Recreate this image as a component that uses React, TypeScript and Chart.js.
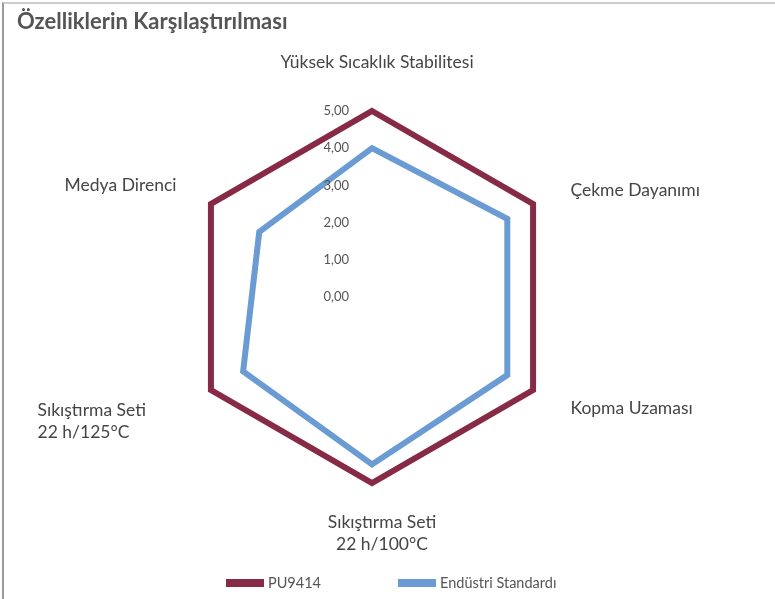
import React, { useEffect, useRef } from 'react';
import { Chart, registerables } from 'chart.js';

Chart.register(...registerables);

const TITLE = 'Özelliklerin Karşılaştırılması';
const CATEGORIES: (string | string[])[] = [
  'Yüksek Sıcaklık Stabilitesi',
  'Çekme Dayanımı',
  'Kopma Uzaması',
  ['Sıkıştırma Seti', '22 h/100°C'],
  ['Sıkıştırma Seti', '22 h/125°C'],
  'Medya Direnci',
];
const SERIES_NAMES = ['PU9414', 'Endüstri Standardı'];
const PU9414_VALUES = [5, 5, 5, 5, 5, 5];
const ENDUSTRI_VALUES = [4, 4.2, 4.2, 4.5, 4, 3.5];
const SCALE_MIN = 0;
const SCALE_MAX = 5;
const SCALE_STEP = 1;

const COLORS = ['#862a45', '#6a9bd3'];
const FONT = 'Lato, "Open Sans", sans-serif';

const fmt = (v: number) => v.toFixed(2).replace('.', ',');

const customText = {
  id: 'customText',
  afterDatasetsDraw(chart: any) {
    const scale = chart.scales.r;
    const ctx = chart.ctx as CanvasRenderingContext2D;
    ctx.save();

    // tick labels
    ctx.font = `13px ${FONT}`;
    ctx.fillStyle = '#555555';
    ctx.textAlign = 'right';
    ctx.textBaseline = 'middle';
    scale.ticks.forEach((t: any) => {
      const d = scale.getDistanceFromCenterForValue(t.value);
      ctx.fillText(fmt(t.value), scale.xCenter - 23, scale.yCenter - d);
    });

    // point labels
    ctx.font = `17.5px ${FONT}`;
    ctx.fillStyle = '#454545';
    const labels = chart.data.labels as (string | string[])[];
    const lh = 22;
    labels.forEach((lbl, i) => {
      const lines = Array.isArray(lbl) ? lbl : [lbl];
      const p = scale.getPointPosition(i, scale.drawingArea + 42);
      const dx = p.x - scale.xCenter;
      const dy = p.y - scale.yCenter;
      if (Math.abs(dx) < 1) {
        ctx.textAlign = 'center';
        if (dy < 0) {
          lines.forEach((l, k) => ctx.fillText(l, p.x + 5, p.y - 7 - (lines.length - 1 - k) * lh));
        } else {
          lines.forEach((l, k) => ctx.fillText(l, p.x + 10, p.y - 3 + k * lh));
        }
      } else if (dx > 0) {
        ctx.textAlign = 'left';
        const y0 = p.y + (dy < 0 ? 7 : -3);
        lines.forEach((l, k) => ctx.fillText(l, p.x + 1, y0 + k * lh));
      } else {
        const y0 = p.y + (dy < 0 ? 2 : -1);
        if (lines.length > 1) {
          ctx.textAlign = 'left';
          lines.forEach((l, k) => ctx.fillText(l, p.x - 137, y0 + k * lh));
        } else {
          ctx.textAlign = 'right';
          lines.forEach((l, k) => ctx.fillText(l, p.x + 2, y0 + k * lh));
        }
      }
    });

    // legend
    ctx.font = `14.5px ${FONT}`;
    ctx.textAlign = 'left';
    ctx.textBaseline = 'middle';
    let x = scale.xCenter - 146;
    const y = chart.height - 16;
    chart.data.datasets.forEach((ds: any) => {
      ctx.fillStyle = ds.borderColor;
      ctx.fillRect(x, y - 4, 38, 8);
      ctx.fillStyle = '#555555';
      ctx.fillText(ds.label, x + 42, y);
      x += 42 + ctx.measureText(ds.label).width + 77;
    });
    ctx.restore();
  },
};

export default function App() {
  const ref = useRef<HTMLCanvasElement | null>(null);

  useEffect(() => {
    if (!ref.current) return;
    const chart = new Chart(ref.current, {
      type: 'radar',
      data: {
        labels: CATEGORIES as any,
        datasets: [
          {
            label: SERIES_NAMES[0],
            data: PU9414_VALUES,
            borderColor: COLORS[0],
            backgroundColor: 'transparent',
            borderWidth: 6,
            fill: false,
            pointRadius: 0,
            pointHoverRadius: 0,
            borderJoinStyle: 'miter',
          },
          {
            label: SERIES_NAMES[1],
            data: ENDUSTRI_VALUES,
            borderColor: COLORS[1],
            backgroundColor: 'transparent',
            borderWidth: 6,
            fill: false,
            pointRadius: 0,
            pointHoverRadius: 0,
            borderJoinStyle: 'miter',
          },
        ],
      },
      options: {
        responsive: false,
        animation: false,
        layout: { padding: { left: 17, right: 48, top: 0, bottom: 116 } },
        plugins: {
          legend: { display: false },
          tooltip: { enabled: false },
          title: {
            display: true,
            text: TITLE,
            align: 'start',
            color: '#555555',
            font: { family: FONT, size: 22, weight: 'bold', lineHeight: 1 },
            padding: { top: 11, bottom: 78 },
          },
        },
        scales: {
          r: {
            min: SCALE_MIN,
            max: SCALE_MAX,
            ticks: { display: false, stepSize: SCALE_STEP },
            grid: { display: false },
            angleLines: { display: false },
            pointLabels: { display: false },
          },
        },
      },
      plugins: [customText],
    });
    return () => chart.destroy();
  }, []);

  return (
    <div style={{ position: 'fixed', left: 0, top: 0, width: 775, height: 599, background: '#ffffff', overflow: 'hidden' }}>
      <div
        style={{
          position: 'absolute',
          left: 2,
          top: 2,
          width: 900,
          height: 800,
          borderTop: '2px solid #cccccc',
          borderLeft: '2px solid #9a9a9a',
          boxSizing: 'border-box',
        }}
      />
      <canvas ref={ref} width={775} height={599} style={{ position: 'absolute', left: 0, top: 0 }} />
    </div>
  );
}
